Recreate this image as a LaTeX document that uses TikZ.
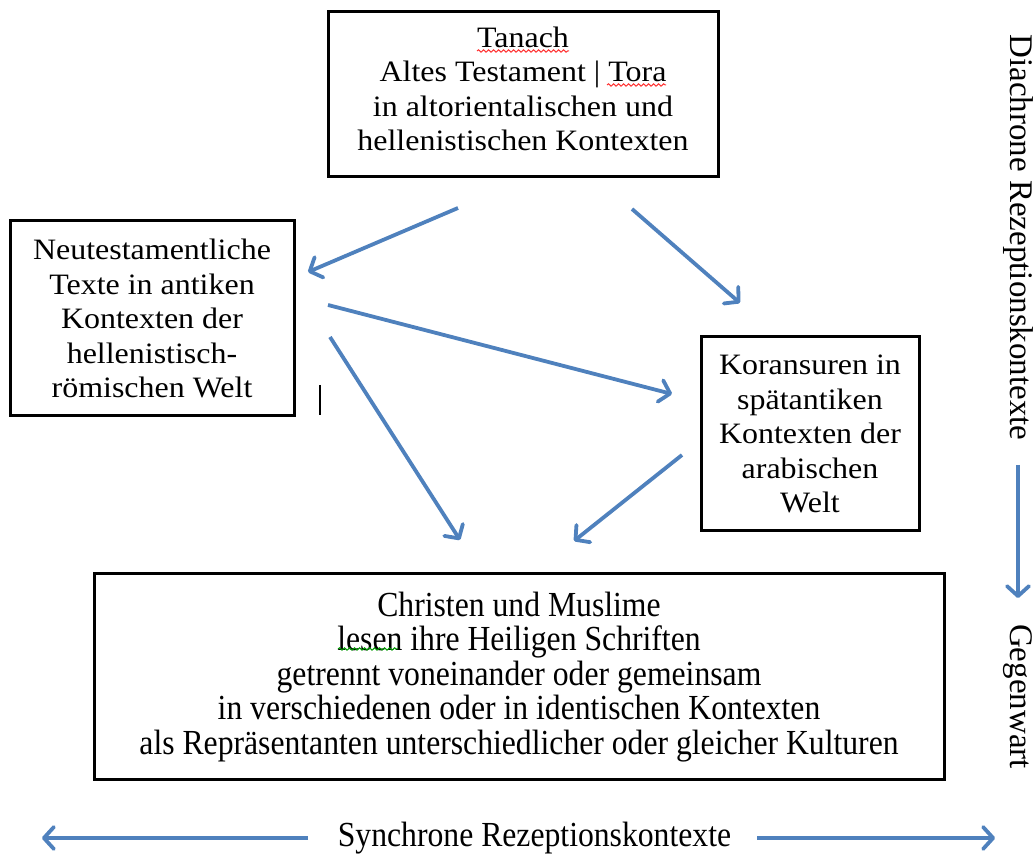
\documentclass[tikz,border=0pt]{standalone}
\usepackage{fontspec}
\setmainfont{Liberation Serif}
\newfontfamily\widefont[FakeStretch=1.08]{Liberation Serif}
\newfontfamily\narrowfont[FakeStretch=0.9]{Liberation Serif}
\usetikzlibrary{arrows.meta,decorations.pathmorphing}
\definecolor{arrowblue}{RGB}{79,129,189}
\newcommand\boxtext{\widefont\fontsize{14.8}{17.25}\selectfont}
\newcommand\widetext{\narrowfont\fontsize{17.6}{17.25}\selectfont}
\newcommand\sidetext{\rmfamily\fontsize{16.5}{18}\selectfont}

\begin{document}
\begin{tikzpicture}[x=0.5pt,y=-0.5pt,
    box/.style={draw,line width=1.5pt,align=center,inner sep=0pt},
    flow/.style={draw=arrowblue,line width=1.9pt,-{Straight Barb[length=5pt,width=11pt,round]}},
    squiggle/.style={line width=0.5pt,decorate,decoration={snake,amplitude=0.6pt,segment length=2.5pt}}]
  \useasboundingbox (0,0) rectangle (1034,854);

  % Texte
  \node[box,font=\boxtext,text depth=6pt,minimum width=195pt,minimum height=82.5pt] (tanach) at (523,94.5)
    {Tanach\\Altes Testament | Tora\\in altorientalischen und\\hellenistischen Kontexten};
  \node[box,font=\boxtext,minimum width=142pt,minimum height=97.5pt] (nt) at (152,318.5)
    {Neutestamentliche\\Texte in antiken\\Kontexten der\\hellenistisch-\\römischen Welt};
  \node[box,font=\boxtext,minimum width=109pt,minimum height=97pt] (koran) at (810,434)
    {Koransuren in\\spätantiken\\Kontexten der\\arabischen\\Welt};
  \node[box,font=\widetext,minimum width=425pt,minimum height=103pt] (heute) at (519,677)
    {Christen und Muslime\\lesen ihre Heiligen Schriften\\getrennt voneinander oder gemeinsam\\in verschiedenen oder in identischen Kontexten\\als Repräsentanten unterschiedlicher oder gleicher Kulturen};

  % Achsen
  \node[font=\sidetext,rotate=-90,inner sep=0pt] (dia) at (1018,237.5) {Diachrone Rezeptionskontexte};
  \node[font=\sidetext,rotate=-90,inner sep=0pt] (gegen) at (1018,696.5) {Gegenwart};
  \node[font=\widetext,inner sep=0pt] (syn) at (534.5,838) {Synchrone Rezeptionskontexte};

  \coordinate (ta-nt) at (458,208);
  \coordinate (nt-in) at (308,272);
  \coordinate (ta-ko) at (632,209);
  \coordinate (ko-in) at (740,303);
  \coordinate (nt-ko) at (328,305);
  \coordinate (ko-in2) at (672,394);
  \coordinate (nt-he) at (330,337);
  \coordinate (he-in) at (460,540);
  \coordinate (ko-he) at (682,455);
  \coordinate (he-in2) at (574,541);
  \coordinate (dia-a) at (1018,465);
  \coordinate (dia-b) at (1018,598);
  \coordinate (syn-la) at (308,838);
  \coordinate (syn-lb) at (42,838);
  \coordinate (syn-ra) at (757,838);
  \coordinate (syn-rb) at (995,838);

  \begin{scope}[flow]
    \draw (ta-nt) -- (nt-in);
    \draw (ta-ko) -- (ko-in);
    \draw (nt-ko) -- (ko-in2);
    \draw (nt-he) -- (he-in);
    \draw (ko-he) -- (he-in2);
    \draw (dia-a) -- (dia-b);
    \draw (syn-la) -- (syn-lb);
    \draw (syn-ra) -- (syn-rb);
  \end{scope}

  % Rechtschreibmarken
  \draw[squiggle,red!80] (477,51) -- (569,51);
  \draw[squiggle,red!80] (607,85) -- (666,85);
  \draw[squiggle,green!60!black] (338,649) -- (398,649);

  \draw[line width=1pt] (320,385) -- (320,415);
\end{tikzpicture}
\end{document}
